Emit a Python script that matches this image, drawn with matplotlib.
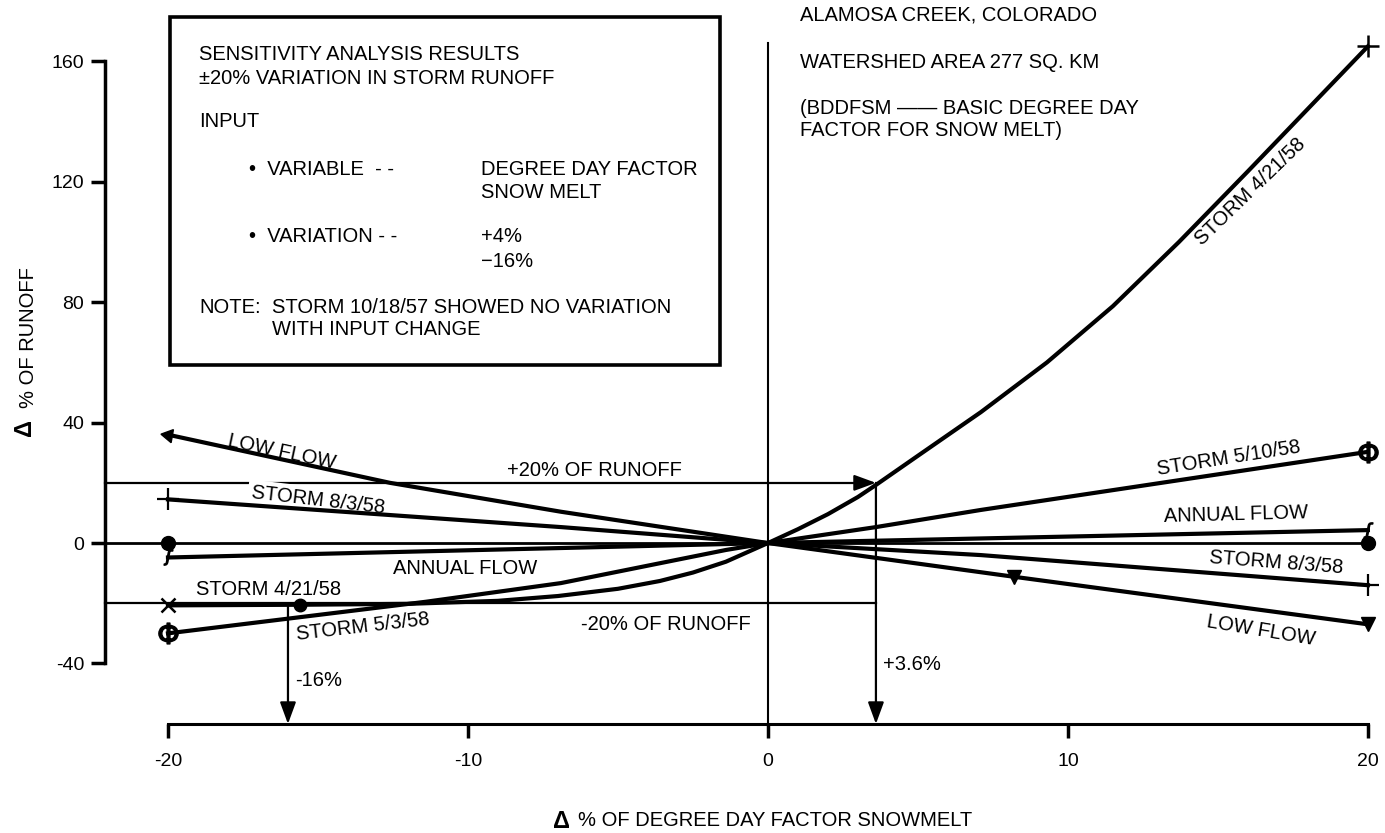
import matplotlib
matplotlib.use('Agg')
import matplotlib.pyplot as plt
from matplotlib.patches import Rectangle

plt.rcParams['font.family'] = ['Liberation Sans', 'DejaVu Sans']

# x = % change of degree day factor snowmelt, y = % change of runoff
s0421_x = [-20, -15.6, -12, -9, -7, -5, -3.6, -2.5, -1.4, 0, 1, 2, 3, 3.6, 5, 7.1, 9.3, 11.5, 13.7, 16.0, 20]
s0421_y = [-20.7, -20.5, -20.2, -19.2, -17.6, -15.2, -12.6, -9.8, -6.2, 0, 4.6, 9.6, 15.3, 19.3, 29.0,
           43.5, 60.0, 78.7, 100, 123.5, 165]

s0503_x = [-20, -11.4, -6.9, -3.6, -1.4, 0]
s0503_y = [-30, -19.5, -13.3, -6.7, -2.3, 0]

s0510_x = [0, 3.6, 7.1, 20]
s0510_y = [0, 5.3, 11.0, 30.3]

low_x = [-20, -12.6, -6.9, 0, 7.1, 8.2, 20]
low_y = [36, 20, 10.4, 0, -9.7, -11.2, -27]

s0803_x = [-20, -6.9, 0, 7.1, 20]
s0803_y = [14.5, 5.3, 0, -4.0, -14]

annual_x = [-20, 0, 20]
annual_y = [-4.8, 0, 4.3]

zero_x = [-20, 20]
zero_y = [0, 0]

runoff_limits = [20, -20]
cross_plus = 3.6
cross_minus = -16

xticks = [-20, -10, 0, 10, 20]
yticks = [-40, 0, 40, 80, 120, 160]

fig = plt.figure(figsize=(13.85, 8.33), dpi=100)
ax = fig.add_axes([0.0758, 0.1309, 0.9242, 0.8691])
x0, x1 = -22.1, 20.57
y0, y1 = -60.1, 180.4
ax.set_xlim(x0, x1)
ax.set_ylim(y0, y1)

for s in ['top', 'right']:
    ax.spines[s].set_visible(False)
ax.spines['left'].set_bounds(-40, 160)
ax.spines['bottom'].set_bounds(-20, 20)
ax.spines['left'].set_linewidth(2.5)
ax.spines['bottom'].set_linewidth(2.2)
ax.set_xticks(xticks)
ax.set_xticklabels([str(v) for v in xticks])
ax.set_yticks(yticks)
ax.set_yticklabels([str(v) for v in yticks])
ax.tick_params(axis='both', direction='out', length=10, width=2.5, labelsize=14)
ax.tick_params(axis='x', pad=11)
ax.tick_params(axis='y', pad=5)

k = 'black'
# reference lines
ax.plot([x0, 20], [0, 0], color=k, lw=2.0, zorder=2, clip_on=False)
ax.plot([0, 0], [y0, 166], color=k, lw=1.5, zorder=2)
ax.plot([x0, cross_plus - 0.5], [runoff_limits[0]] * 2, color=k, lw=1.6, zorder=2, clip_on=False)
ax.plot([x0, cross_plus], [runoff_limits[1]] * 2, color=k, lw=1.6, zorder=2, clip_on=False)
arr = dict(arrowstyle='-|>,head_length=0.6,head_width=0.22', mutation_scale=22,
           color=k, lw=1.6, shrinkA=0, shrinkB=0)
ax.annotate('', xy=(cross_plus, runoff_limits[0]), xytext=(cross_plus - 0.6, runoff_limits[0]), arrowprops=arr)
ax.annotate('', xy=(cross_plus, y0), xytext=(cross_plus, runoff_limits[0]), arrowprops=arr)
ax.annotate('', xy=(cross_minus, y0), xytext=(cross_minus, runoff_limits[1] - 0.5), arrowprops=arr)

# curves
lw = 3.0
ax.plot(s0421_x, s0421_y, color=k, lw=lw, zorder=4, solid_joinstyle='round')
ax.plot([s0421_x[0]], [s0421_y[0]], 'x', color=k, ms=10, mew=1.8, zorder=5)
ax.plot([s0421_x[1]], [s0421_y[1]], 'o', color=k, ms=9, zorder=5)
ax.plot([s0421_x[-1]], [s0421_y[-1]], '+', color=k, ms=16, mew=1.8, zorder=5)

phi = '$\\Phi$'
ax.plot(s0503_x, s0503_y, color=k, lw=lw, zorder=4)
ax.plot([s0503_x[0]], [s0503_y[0]], marker=phi, color=k, ms=15, zorder=5)
ax.plot(s0510_x, s0510_y, color=k, lw=lw, zorder=4)
ax.plot([s0510_x[-1]], [s0510_y[-1]], marker=phi, color=k, ms=15, zorder=5)

ax.plot(low_x, low_y, color=k, lw=lw, zorder=4)
ax.plot([low_x[0]], [low_y[0]], marker=(3, 0, 80), color=k, ms=11, zorder=5)
ax.plot([low_x[5], low_x[-1]], [low_y[5], low_y[-1]], 'v', color=k, ms=10, zorder=5)

ax.plot(s0803_x, s0803_y, color=k, lw=lw, zorder=4)
ax.plot([s0803_x[0], s0803_x[-1]], [s0803_y[0], s0803_y[-1]], '+', color=k, ms=16, mew=1.6, zorder=5)

ax.plot(annual_x, annual_y, color=k, lw=lw, zorder=4)
ax.plot([annual_x[0], annual_x[-1]], [annual_y[0], annual_y[-1]], marker='$ʃ$', ls='none',
        color=k, ms=11, zorder=5)

ax.plot(zero_x, zero_y, 'o', color=k, ms=10, zorder=5)

# curve labels
fs = 14.5
lab = [
    ('LOW FLOW', -16.2, 30.4, -12),
    ('ANNUAL FLOW', -10.1, -8.6, 0),
    ('STORM 4/21/58', -16.65, -15.4, 0),
    ('STORM 5/3/58', -13.5, -27.8, 6.6),
    ('+20% OF RUNOFF', -5.8, 24.0, 0),
    ('-20% OF RUNOFF', -3.4, -27.0, 0),
    ('STORM 5/10/58', 15.36, 28.3, 9),
    ('ANNUAL FLOW', 15.6, 9.5, 1.5),
    ('STORM 8/3/58', 16.96, -6.5, -4.4),
    ('LOW FLOW', 16.45, -29.2, -9.5),
    ('STORM 4/21/58', 16.07, 116.9, 44),
]
for t, x, y, r in lab:
    ax.text(x, y, t, fontsize=fs, ha='center', va='center', rotation=r,
            rotation_mode='anchor', zorder=6)
ax.text(-15.0, 14.2, 'STORM 8/3/58', fontsize=fs, ha='center', va='center', rotation=-6.6,
        rotation_mode='anchor', zorder=3,
        bbox=dict(facecolor='white', edgecolor='none', pad=2.5))
ax.text(-15.75, -45.6, '-16%', fontsize=fs, ha='left', va='center')
ax.text(3.85, -40.2, '+3.6%', fontsize=fs, ha='left', va='center')

# info box
ax.add_patch(Rectangle((-19.93, 59.3), 18.33, 115.5, fill=False, lw=2.6, ec=k, zorder=3))
box = [
    ('SENSITIVITY ANALYSIS RESULTS', -18.97, 162.4),
    ('±20% VARIATION IN STORM RUNOFF', -18.97, 154.4),
    ('INPUT', -18.97, 139.9),
    ('•  VARIABLE  - -', -17.3, 124.2),
    ('DEGREE DAY FACTOR', -9.57, 124.2),
    ('SNOW MELT', -9.57, 116.3),
    ('•  VARIATION - -', -17.3, 101.7),
    ('+4%', -9.57, 101.7),
    ('\u221216%', -9.57, 93.4),
    ('NOTE:', -18.97, 78.4),
    ('STORM 10/18/57 SHOWED NO VARIATION', -16.53, 78.4),
    ('WITH INPUT CHANGE', -16.53, 70.8),
]
for t, x, y in box:
    ax.text(x, y, t, fontsize=fs, ha='left', va='center')

site = [
    ('ALAMOSA CREEK, COLORADO', 175.4),
    ('WATERSHED AREA 277 SQ. KM', 159.5),
    ('(BDDFSM \u2014\u2014 BASIC DEGREE DAY', 144.5),
    ('FACTOR FOR SNOW MELT)', 137.2),
]
for t, y in site:
    ax.text(1.07, y, t, fontsize=fs, ha='left', va='center', clip_on=False)

# axis titles
fig.text(25 / 1385, 1 - 428 / 833, '\u0394', fontsize=17, fontweight='bold', rotation=90,
         ha='center', va='center')
fig.text(28 / 1385, 1 - 338 / 833, '% OF RUNOFF', fontsize=fs, rotation=90,
         ha='center', va='center')
fig.text(562 / 1385, 1 - 822 / 833, '\u0394', fontsize=17, fontweight='bold',
         ha='center', va='center')
fig.text(578 / 1385, 1 - 820 / 833, '% OF DEGREE DAY FACTOR SNOWMELT', fontsize=fs,
         ha='left', va='center')

fig.savefig('out.png', dpi=100)
